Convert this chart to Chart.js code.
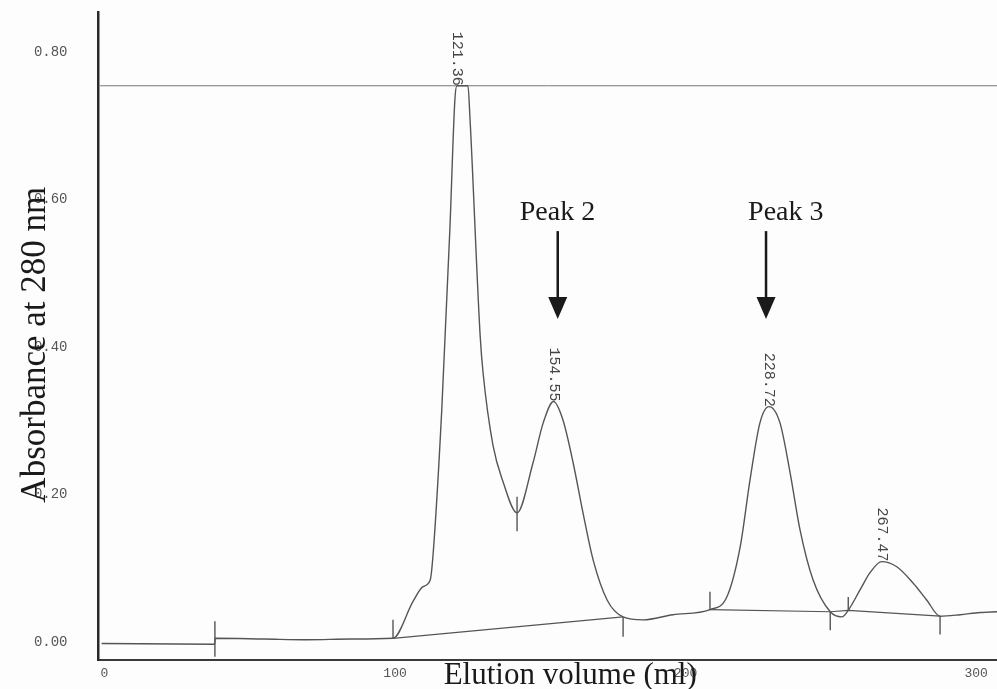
<!DOCTYPE html>
<html>
<head>
<meta charset="utf-8">
<title>Elution profile</title>
<script src="https://cdn.jsdelivr.net/npm/chart.js@4.4.1/dist/chart.umd.min.js"></script>
<style>
  html, body { margin: 0; padding: 0; background: #fdfdfd; }
  #grafico { display: block; }
</style>
</head>
<body>
<canvas id="grafico" width="997" height="689"></canvas>
<script>
// A280 trace (elution volume in ml)
const traceVol = [-1, 37.9, 38.1, 55, 70, 85, 99.3, 106.2, 109.6, 112.1, 113.1, 116.1, 118.9, 120.6, 121.3, 125.1,
  125.8, 129.3, 130.3, 133.7, 137.2, 142.0, 147.5, 151.0, 154.55, 157.8, 161.3, 164.7, 168.2, 173.0, 178.5,
  185.4, 195.7, 208.4, 214.2, 218.8, 222.2, 225.6, 228.72, 232.5, 236.0, 239.4, 243.9, 249.8, 253.8, 256.0,
  260.1, 263.5, 267.47, 272.7, 278.3, 283.0, 287.6, 294.5, 301.4, 307.2];
const traceAbs = [-0.002, -0.003, 0.005, 0.004, 0.003, 0.004, 0.005, 0.055, 0.075, 0.084, 0.119, 0.316, 0.562, 0.735, 0.754, 0.754,
  0.710, 0.415, 0.365, 0.267, 0.217, 0.175, 0.243, 0.297, 0.326, 0.301, 0.243, 0.175, 0.111, 0.057, 0.034,
  0.030, 0.037, 0.044, 0.061, 0.129, 0.220, 0.297, 0.319, 0.297, 0.229, 0.152, 0.084, 0.041, 0.034, 0.043,
  0.071, 0.094, 0.109, 0.102, 0.080, 0.057, 0.035, 0.037, 0.040, 0.041];

// integrator baseline under the peaks
const baseVol = [99.3, 178.5, null, 208.4, 249.8, 256.0, 287.6];
const baseAbs = [0.005, 0.034, null, 0.044, 0.041, 0.043, 0.035];

// peak start / end marks
const markVol = [38.0, 99.3, 142.0, 178.5, 208.4, 249.8, 256.0, 287.6];
const markTop = [0.028, 0.030, 0.197, 0.034, 0.068, 0.041, 0.061, 0.035];
const markBottom = [-0.020, 0.005, 0.150, 0.007, 0.043, 0.016, 0.043, 0.010];

// detector full scale line
const limitAbs = 0.754;

// retention labels
const peakVol = [121.36, 154.55, 228.72, 267.47];
const peakAbs = [0.754, 0.326, 0.319, 0.109];
const peakText = ["121.36", "154.55", "228.72", "267.47"];

// hand written notes
const noteText = ["Peak 2", "Peak 3"];
const noteVol = [155.9, 234.5];
const arrowVol = [156.0, 227.7];
const noteAbs = 0.572;
const arrowTop = 0.557;
const arrowTip = 0.438;

const xTicks = [0, 100, 200, 300];
const yTicks = [0, 0.2, 0.4, 0.6, 0.8];

function pares(xs, ys) {
    return xs.map((x, i) => ({ x: x, y: ys[i] }));
}

let marcas = [];
markVol.forEach((v, i) => {
    marcas.push({ x: v, y: markTop[i] }, { x: v, y: markBottom[i] }, { x: v, y: null });
});

const monoFont = "'Liberation Mono', 'DejaVu Sans Mono', monospace";
const serifFont = "'Liberation Serif', 'Times New Roman', serif";

const anotacoes = {
    id: "anotacoes",
    afterDatasetsDraw(chart) {
        let ctx = chart.ctx;
        let x = chart.scales.x;
        let y = chart.scales.y;
        let area = chart.chartArea;
        ctx.save();

        // rotated retention volumes sitting on the peak tops
        ctx.font = "15px " + monoFont;
        ctx.fillStyle = "#444";
        ctx.textAlign = "right";
        ctx.textBaseline = "middle";
        peakVol.forEach((v, i) => {
            ctx.save();
            ctx.translate(x.getPixelForValue(v), y.getPixelForValue(peakAbs[i]));
            ctx.rotate(Math.PI / 2);
            ctx.fillText(peakText[i], 0, 0);
            ctx.restore();
        });

        // Peak 2 / Peak 3 with arrows
        ctx.font = "28px " + serifFont;
        ctx.fillStyle = "#1a1a1a";
        ctx.textAlign = "center";
        ctx.textBaseline = "alphabetic";
        noteText.forEach((t, i) => {
            ctx.fillText(t, x.getPixelForValue(noteVol[i]), y.getPixelForValue(noteAbs));
            let ax = x.getPixelForValue(arrowVol[i]);
            let top = y.getPixelForValue(arrowTop);
            let tip = y.getPixelForValue(arrowTip);
            ctx.strokeStyle = "#1a1a1a";
            ctx.lineWidth = 2.5;
            ctx.beginPath();
            ctx.moveTo(ax, top);
            ctx.lineTo(ax, tip - 20);
            ctx.stroke();
            ctx.beginPath();
            ctx.moveTo(ax - 9.5, tip - 22);
            ctx.lineTo(ax + 9.5, tip - 22);
            ctx.lineTo(ax, tip);
            ctx.closePath();
            ctx.fill();
        });

        // axis titles
        ctx.font = "35px " + serifFont;
        ctx.fillStyle = "#1a1a1a";
        ctx.save();
        ctx.translate(area.left - 54, y.getPixelForValue(0.403));
        ctx.rotate(-Math.PI / 2);
        ctx.textAlign = "center";
        ctx.fillText("Absorbance at 280 nm", 0, 0);
        ctx.restore();

        ctx.font = "31px " + serifFont;
        ctx.textAlign = "center";
        ctx.fillText("Elution volume (ml)", x.getPixelForValue(160.3), area.bottom + 24);

        ctx.restore();
    }
};

new Chart(document.getElementById("grafico"), {
    type: "line",
    data: {
        datasets: [
            {
                data: pares(traceVol, traceAbs),
                borderColor: "#555",
                borderWidth: 1.4,
                cubicInterpolationMode: "monotone"
            },
            {
                data: pares(baseVol, baseAbs),
                borderColor: "#555",
                borderWidth: 1.2,
                tension: 0
            },
            {
                data: marcas,
                borderColor: "#555",
                borderWidth: 1.4,
                tension: 0
            },
            {
                data: pares([-1.5, 307.2], [limitAbs, limitAbs]),
                borderColor: "#777",
                borderWidth: 1,
                tension: 0
            }
        ]
    },
    options: {
        responsive: false,
        animation: false,
        devicePixelRatio: 1,
        layout: { padding: { top: 12, right: 0, left: 0, bottom: 0 } },
        elements: { point: { radius: 0 } },
        plugins: {
            legend: { display: false },
            tooltip: { enabled: false }
        },
        scales: {
            x: {
                type: "linear",
                min: -2.07,
                max: 307.2,
                grid: { display: false, drawTicks: false },
                border: { display: true, color: "#3a3a3a", width: 2 },
                ticks: {
                    color: "#555",
                    font: { family: monoFont, size: 13 },
                    padding: 6,
                    maxRotation: 0,
                    callback: v => String(v)
                },
                afterBuildTicks: s => { s.ticks = xTicks.map(v => ({ value: v })); },
                afterFit: s => {
                    s.height = 29;
                    s.paddingLeft = 0;
                    s.paddingRight = 0;
                }
            },
            y: {
                type: "linear",
                min: -0.0244,
                max: 0.854,
                grid: { display: false, drawTicks: false },
                border: { display: true, color: "#2a2a2a", width: 2.5 },
                ticks: {
                    color: "#555",
                    font: { family: monoFont, size: 14 },
                    padding: 31,
                    callback: v => v.toFixed(2)
                },
                afterBuildTicks: s => { s.ticks = yTicks.map(v => ({ value: v })); },
                afterFit: s => {
                    s.width = 98.5;
                    s.paddingTop = 0;
                    s.paddingBottom = 0;
                }
            }
        }
    },
    plugins: [anotacoes]
});
</script>
</body>
</html>
